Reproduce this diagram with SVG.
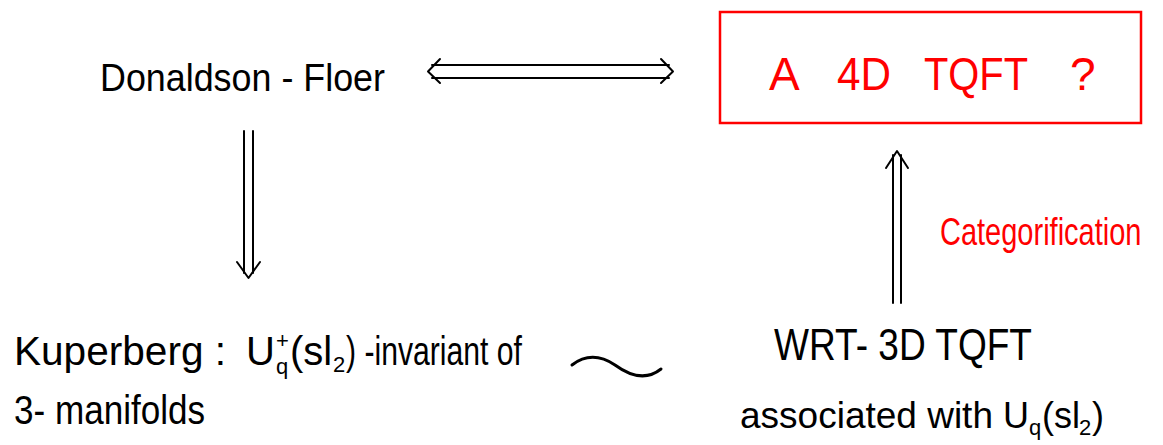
<svg xmlns="http://www.w3.org/2000/svg" width="1163" height="445" viewBox="0 0 1163 445">
  <defs>
    <style>
      .t { font-family: "Liberation Sans", "DejaVu Sans", sans-serif; fill: #000; }
      .red { fill: #ff0000; }
      .ln { stroke: #000; stroke-width: 2; fill: none; stroke-linecap: round; stroke-linejoin: round; }
      .idx { font-size: 22px; }
    </style>
  </defs>
  <rect width="1163" height="445" fill="#fff"/>

  <g id="donaldson-floer">
    <text class="t" x="100" y="91" font-size="38" textLength="285" lengthAdjust="spacingAndGlyphs">Donaldson - Floer</text>
  </g>

  <g id="tqft-4d">
    <rect x="720" y="12" width="421" height="111" fill="none" stroke="#ff0000" stroke-width="2.5"/>
    <text class="t red" x="769" y="90" font-size="46">A</text>
    <text class="t red" x="837" y="90" font-size="46" textLength="54" lengthAdjust="spacingAndGlyphs">4D</text>
    <text class="t red" x="924" y="90" font-size="46" textLength="104" lengthAdjust="spacingAndGlyphs">TQFT</text>
    <text class="t red" x="1070" y="90" font-size="46">?</text>
  </g>

  <g id="categorification">
    <!-- narrow lettering: small size, stretched vertically -->
    <text class="t red" transform="translate(940 245) scale(1 1.35)" x="0" y="0" font-size="29">Categorification</text>
  </g>

  <g id="kuperberg">
    <text class="t" x="14" y="365" font-size="40" textLength="212" lengthAdjust="spacingAndGlyphs">Kuperberg :</text>
    <text class="t" x="246" y="365" font-size="40">U</text>
    <text class="t idx" x="276" y="348">+</text>
    <text class="t idx" x="276" y="374">q</text>
    <text class="t" x="290" y="365" font-size="40">(sl</text>
    <text class="t idx" x="333" y="372">2</text>
    <text class="t" x="346" y="365" font-size="40" textLength="176" lengthAdjust="spacingAndGlyphs">) -invariant  of</text>
    <text class="t" x="14" y="424" font-size="40" textLength="191" lengthAdjust="spacingAndGlyphs">3- manifolds</text>
  </g>

  <g id="wrt-tqft">
    <text class="t" x="774" y="360" font-size="44" textLength="258" lengthAdjust="spacingAndGlyphs">WRT- 3D TQFT</text>
    <text class="t" x="740" y="428" font-size="37">associated with</text>
    <text class="t" x="1003" y="428" font-size="36">U</text>
    <text class="t idx" x="1029" y="435">q</text>
    <text class="t" x="1042" y="428" font-size="36">(sl</text>
    <text class="t idx" x="1079" y="435">2</text>
    <text class="t" x="1092" y="428" font-size="36">)</text>
  </g>

  <g id="connectors">
    <!-- equivalence between Donaldson-Floer and the 4D theory -->
    <path class="ln" d="M432,65 H669 M432,78 H669"/>
    <path class="ln" d="M440,59 L428,71.5 L440,83"/>
    <path class="ln" d="M661,59 L673,71.5 L661,83"/>
    <!-- implication down to Kuperberg -->
    <path class="ln" d="M244,131 V273 M253,131 V273"/>
    <path class="ln" d="M237,262 L248.5,278 L260,262"/>
    <!-- categorification up to the 4D theory -->
    <path class="ln" d="M893,303 V155 M901,303 V155"/>
    <path class="ln" d="M886,168 L897,151 L908,168"/>
    <!-- correspondence between the 3D invariants -->
    <path d="M572,365 C585,355 600,355 615,365 C630,376 646,381 661,369" fill="none" stroke="#000" stroke-width="3" stroke-linecap="round"/>
  </g>
</svg>
